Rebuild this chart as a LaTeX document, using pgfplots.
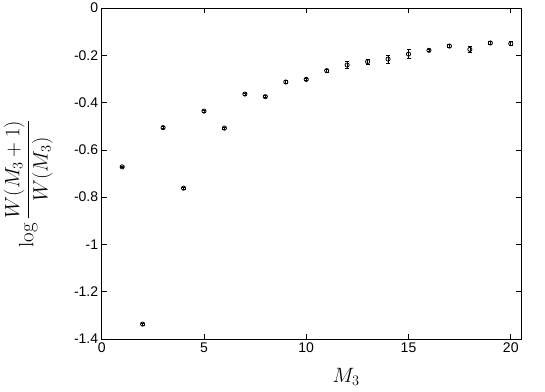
\documentclass[border=0pt]{standalone}
\usepackage[no-math]{fontspec}
\setmainfont{Liberation Sans}
\usepackage{amsmath}
\usepackage{pgfplots}
\pgfplotsset{compat=1.18}

\pgfplotstableread{
x  y       e
1  -0.672  0.004
2  -1.337  0.004
3  -0.506  0.004
4  -0.762  0.004
5  -0.436  0.004
6  -0.508  0.004
7  -0.364  0.004
8  -0.375  0.005
9  -0.313  0.005
10 -0.302  0.006
11 -0.265  0.007
12 -0.241  0.015
13 -0.227  0.010
14 -0.216  0.016
15 -0.195  0.020
16 -0.179  0.006
17 -0.161  0.007
18 -0.175  0.011
19 -0.148  0.005
20 -0.151  0.008
}\ratio

\begin{document}
\begin{tikzpicture}
\begin{axis}[
    scale only axis,
    width=419.3pt, height=331pt,
    xmin=0, xmax=20.5,
    ymin=-1.4, ymax=0,
    xtick={0,5,10,15,20},
    xticklabels={0,5,10,15,20},
    ytick={-1.4,-1.2,-1,-0.8,-0.6,-0.4,-0.2,0},
    yticklabels={-1.4,-1.2,-1,-0.8,-0.6,-0.4,-0.2,0},
    tick align=inside,
    major tick length=5pt,
    tick style={black, line width=0.7pt},
    axis line style={black, line width=0.8pt},
    tick label style={font=\fontsize{14}{16}\selectfont},
    label style={font=\fontsize{20}{24}\selectfont},
    xlabel={$M_3$},
    xlabel style={at={(axis description cs:0.583,-0.115)}, anchor=center},
    ylabel={$\log\dfrac{W(M_3+1)}{W(M_3)}$},
    ylabel style={at={(axis description cs:-0.175,0.47)}, anchor=center},
]
\addplot+[only marks, black, mark=o, mark size=2.1pt,
    mark options={line width=0.8pt},
    error bars/.cd, y dir=both, y explicit,
    error bar style={line width=0.7pt},
    error mark options={rotate=90, mark size=2pt, line width=0.7pt}]
    table[x=x, y=y, y error=e] {\ratio};
\coordinate (sw) at (rel axis cs:0,0);
\coordinate (ne) at (rel axis cs:1,1);
\end{axis}
\pgfresetboundingbox
\path[use as bounding box] ([xshift=-101.7pt,yshift=-52pt]sw) rectangle ([xshift=24pt,yshift=8pt]ne);
\end{tikzpicture}
\end{document}
